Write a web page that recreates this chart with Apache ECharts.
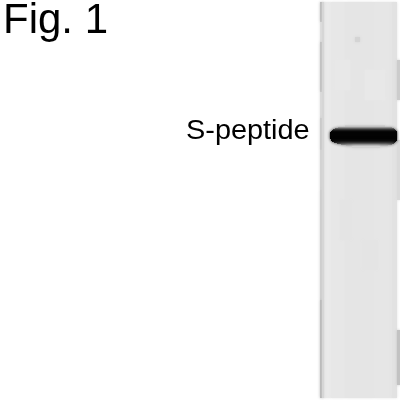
<!DOCTYPE html>
<html><head><meta charset="utf-8">
<style>html,body{margin:0;padding:0;background:#fff}#c{width:400px;height:400px}</style>
<script src="https://cdn.jsdelivr.net/npm/echarts@6/dist/echarts.min.js"></script></head>
<body><div id="c"></div>
<script>
const figureLabel = 'Fig. 1';
const bandLabel = 'S-peptide';
// lane density: [xStart, xEnd, yStart, yEnd, grey level]
const laneStrips = [
 [323,331,2,398,234],[331,345,2,398,231],[345,375,2,398,229],[375,392,2,398,230],[392,397,2,398,226]
];
const laneEdges = [
 [320,322,2,22,186],[320,322,22,42,222],[320,322,42,92,190],[320,322,92,118,218],
 [320,322,118,150,200],[320,322,150,190,210],[320,322,190,300,204],[320,322,300,398,182],
 [322,324,2,398,214],
 [397,400,60,100,204],[397,400,140,200,218],[397,400,330,385,194]
];
const laneSpecks = [
 [355,360,37,42,212],[340,352,200,240,228],[362,378,240,270,228],[335,350,60,90,232],[365,385,70,100,232]
];
// band: rows of [yStart, yEnd, xStart, xEnd, grey]
const bandRows = [
 [125,127,345,385,215],[127,128,338,392,175],[128,129,335,394,120],[129,130,333,395,70],[130,131,332,396,35],[131,132,331,397,12],
 [132,139,330,397,3],[139,141,331,397,6],[141,142,332,396,15],[142,143,334,395,35],[143,144,337,394,70],[144,145,341,392,120],[145,146,346,388,170],[146,148,352,380,210]
];
const rects = [...laneStrips, ...laneEdges, ...laneSpecks];
const bandRects = bandRows.map(r => [r[2], r[3], r[0], r[1], r[4]]);
const grey = v => `rgb(${v},${v},${v})`;
const render = blur => (params, api) => {
  const a = api.coord([api.value(0), api.value(2)]);
  const b = api.coord([api.value(1), api.value(3)]);
  return {type:'rect', shape:{x:a[0], y:a[1], width:b[0]-a[0], height:b[1]-a[1]},
    style:{fill:grey(api.value(4)), shadowBlur:blur, shadowColor:grey(api.value(4))}};
};
const axis = (extra) => Object.assign({type:'value', min:0, max:400, show:false}, extra);
const chart = echarts.init(document.getElementById('c'), null, {renderer:'canvas'});
chart.setOption({
  animation:false,
  backgroundColor:'#ffffff',
  grid:{left:0, right:0, top:0, bottom:0},
  xAxis:axis({}),
  yAxis:axis({inverse:true}),
  graphic:[
    {type:'text', left:3, top:0, style:{text:figureLabel, font:'42px "Liberation Sans"', fill:'#000'}},
    {type:'text', x:186, y:118, scaleX:1.07, style:{text:bandLabel, font:'27px "Liberation Sans"', fill:'#000'}}
  ],
  series:[
    {type:'custom', renderItem:render(3), data:rects, encode:{x:[0,1], y:[2,3]}, silent:true, clip:true},
    {type:'custom', renderItem:render(3), data:bandRects, encode:{x:[0,1], y:[2,3]}, silent:true, clip:true}
  ]
});
</script></body></html>
